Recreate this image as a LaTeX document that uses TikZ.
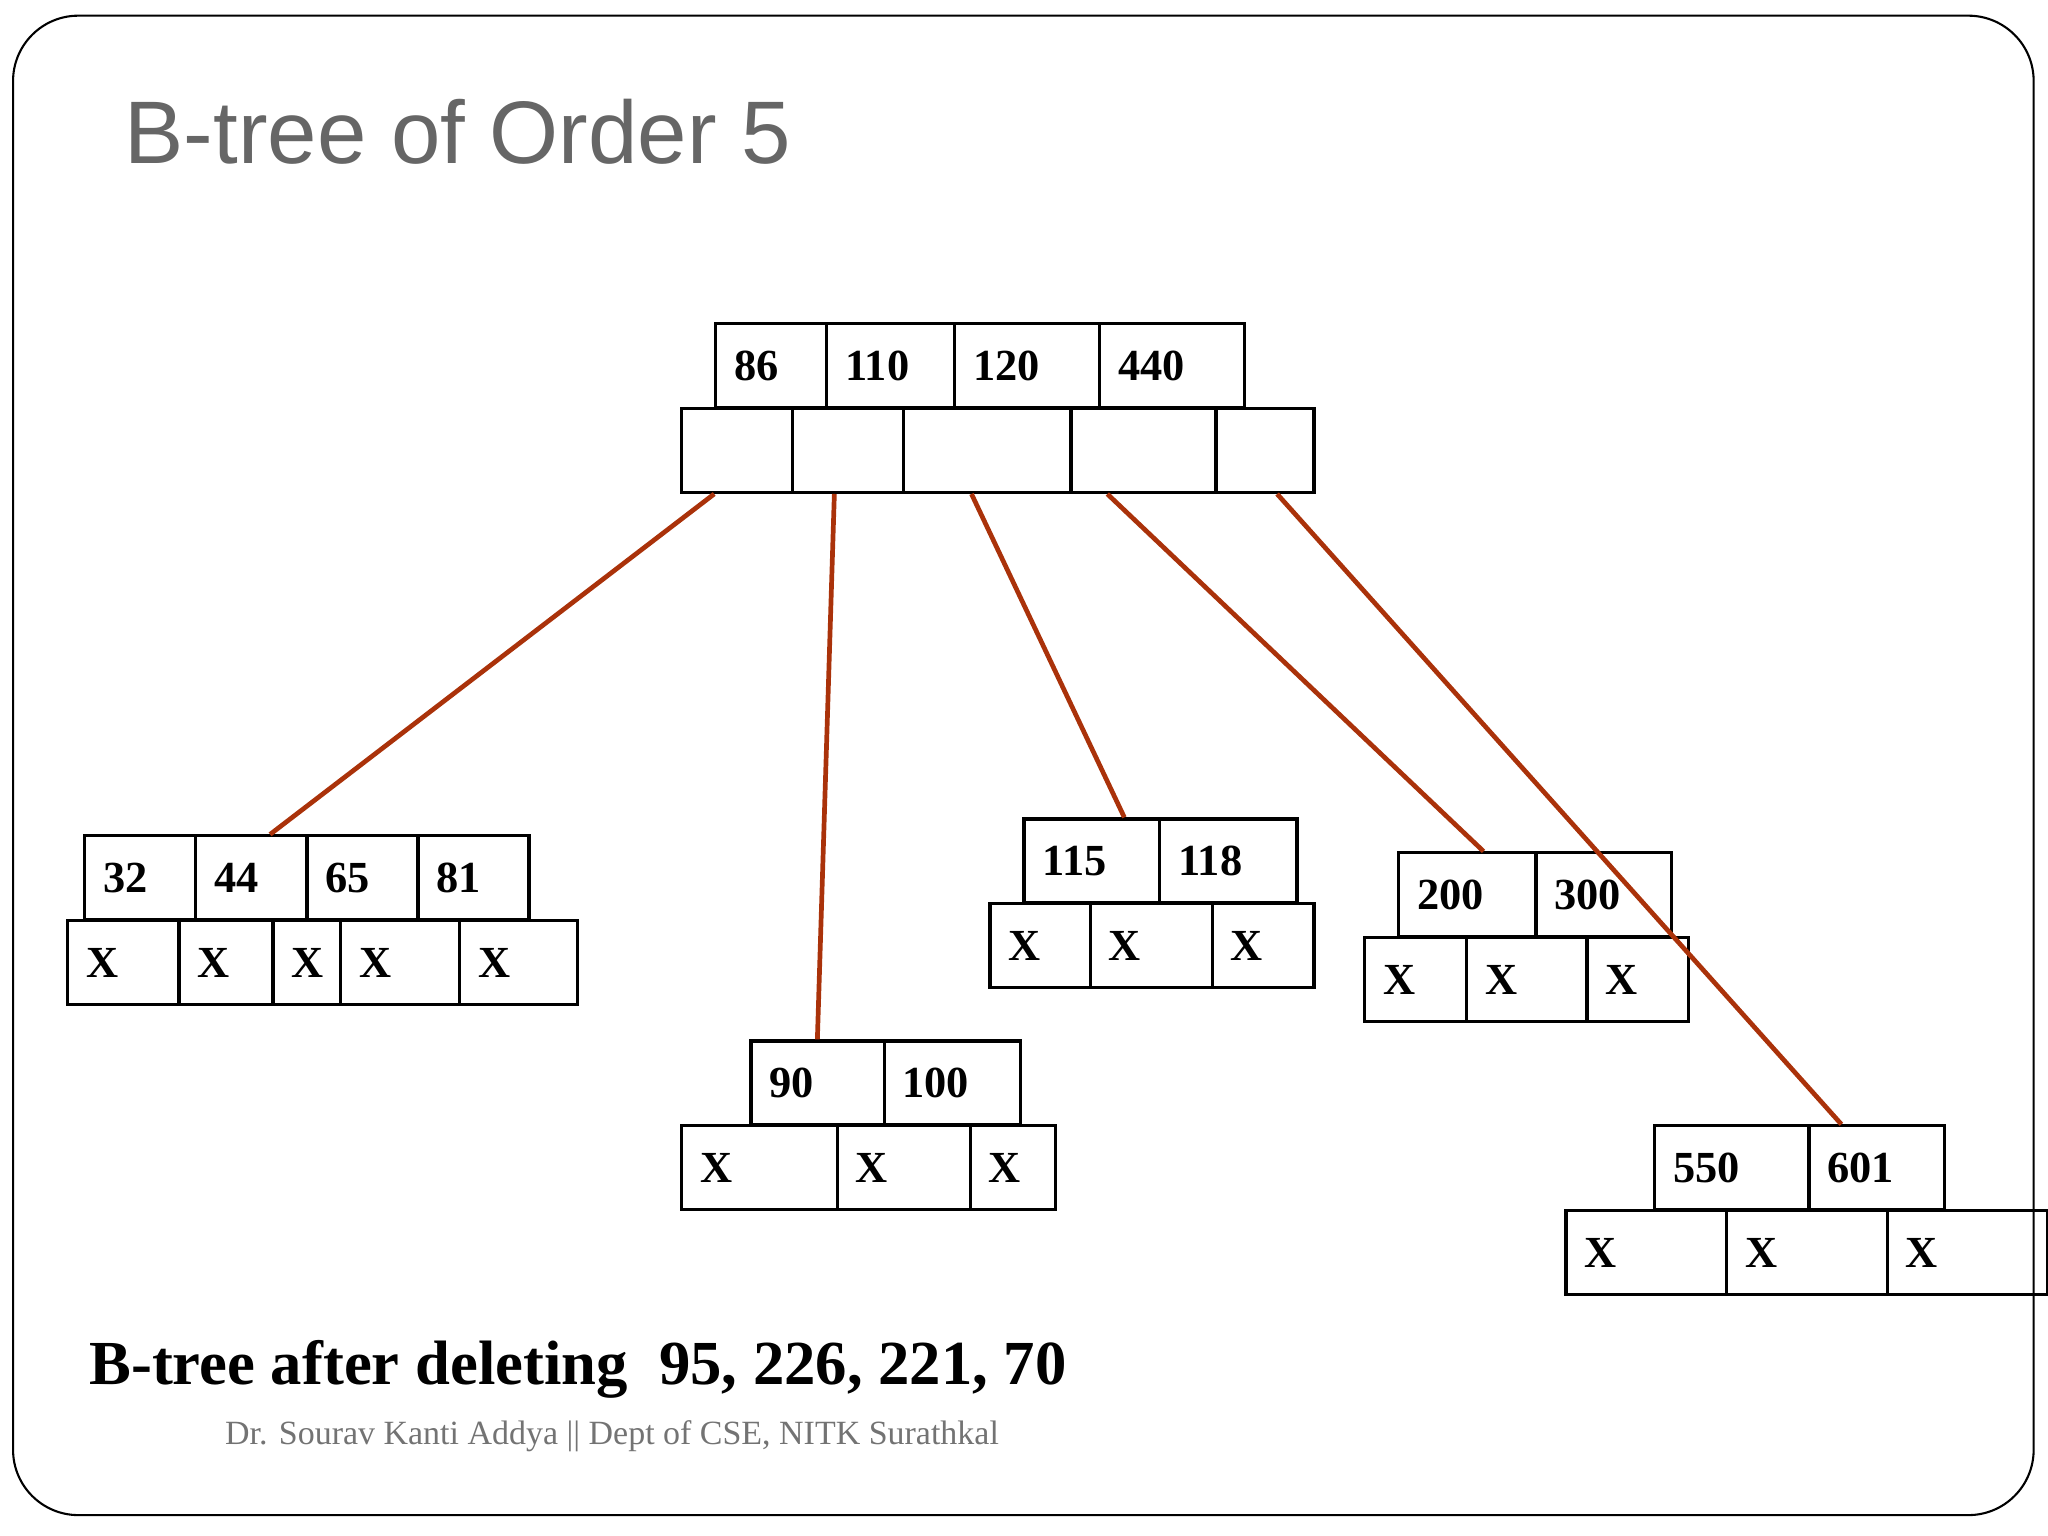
\documentclass[tikz,border=0pt]{standalone}
\usepackage{fontspec}
\setmainfont{Liberation Serif}
\newfontfamily\titlefont{Liberation Sans}
\usetikzlibrary{calc}
\definecolor{edgec}{RGB}{170,50,10}
\tikzset{
  cellbox/.style={draw=black,line width=1.2pt,inner xsep=7pt,inner ysep=0pt,align=left,font=\fontsize{17}{17}\selectfont\bfseries},
  edge/.style={draw=edgec,line width=1.8pt}
}
\newcommand\cellnode[6]{\node[cellbox,text width={(#3-#2)*0.5pt-14pt},minimum height={(#5-#4)*0.5pt}] (#1) at ({(#2+#3)/2},{(#4+#5)/2}) {#6};}
\begin{document}
\begin{tikzpicture}[x=0.5pt,y=-0.5pt]
\useasboundingbox (0,0) rectangle (1568,1176);
\draw[line width=0.8pt,rounded corners=25pt] (10,12) rectangle (1557,1160);
\node[anchor=base west,inner sep=0,text=black!60,font=\titlefont\fontsize{34}{34}\selectfont] (title) at (95,125) {B-tree of Order 5};
% root
\cellnode{r1}{548}{633}{248}{312}{86}
\cellnode{r2}{633}{731}{248}{312}{110}
\cellnode{r3}{731}{842}{248}{312}{120}
\cellnode{r4}{842}{953}{248}{312}{440}
\cellnode{p1}{522}{607}{313}{377}{}
\cellnode{p2}{607}{692}{313}{377}{}
\cellnode{p3}{692}{820}{313}{377}{}
\cellnode{p4}{820}{931}{313}{377}{}
\cellnode{p5}{931}{1006}{313}{377}{}
% leaf 1
\cellnode{a1}{65}{150}{640}{704}{32}
\cellnode{a2}{150}{235}{640}{704}{44}
\cellnode{a3}{235}{320}{640}{704}{65}
\cellnode{a4}{320}{405}{640}{704}{81}
\cellnode{ax1}{52}{137}{705}{769}{X}
\cellnode{ax2}{137}{209}{705}{769}{X}
\cellnode{ax3}{209}{261}{705}{769}{X}
\cellnode{ax4}{261}{352}{705}{769}{X}
\cellnode{ax5}{352}{442}{705}{769}{X}
% leaf 2
\cellnode{b1}{575}{677}{797}{861}{90}
\cellnode{b2}{677}{781}{797}{861}{100}
\cellnode{bx1}{522}{641}{862}{926}{X}
\cellnode{bx2}{641}{743}{862}{926}{X}
\cellnode{bx3}{743}{808}{862}{926}{X}
% leaf 3
\cellnode{c1}{784}{888}{627}{691}{115}
\cellnode{c2}{888}{993}{627}{691}{118}
\cellnode{cx1}{758}{835}{692}{756}{X}
\cellnode{cx2}{835}{928}{692}{756}{X}
\cellnode{cx3}{928}{1006}{692}{756}{X}
% leaf 4
\cellnode{d1}{1071}{1176}{653}{717}{200}
\cellnode{d2}{1176}{1280}{653}{717}{300}
\cellnode{dx1}{1045}{1123}{718}{782}{X}
\cellnode{dx2}{1123}{1215}{718}{782}{X}
\cellnode{dx3}{1215}{1293}{718}{782}{X}
% leaf 5
\cellnode{e1}{1267}{1385}{862}{926}{550}
\cellnode{e2}{1385}{1489}{862}{926}{601}
\cellnode{ex1}{1199}{1322}{927}{991}{X}
\cellnode{ex2}{1322}{1445}{927}{991}{X}
\cellnode{ex3}{1445}{1568}{927}{991}{X}
% edges
\draw[edge] ([xshift=13pt]p1.south west) -- ([xshift=29pt]a2.north west);
\draw[edge] ([xshift=16.5pt]p2.south west) -- ([xshift=26pt]b1.north west);
\draw[edge] ([xshift=26.5pt]p3.south west) -- ([xshift=39pt]c1.north west);
\draw[edge] ([xshift=14.5pt]p4.south west) -- ([xshift=33pt]d1.north west);
\draw[edge] ([xshift=24pt]p5.south west) -- ([xshift=13pt]e2.north west);
% captions
\node[anchor=base west,inner sep=0,font=\fontsize{24}{24}\selectfont\bfseries] (cap) at (68,1060) {B-tree after deleting\ \ 95, 226, 221, 70};
\node[anchor=base west,inner sep=0,text=black!55,font=\fontsize{13}{13}\selectfont] (foot) at (172,1106) {Dr. Sourav Kanti Addya || Dept of CSE, NITK Surathkal};
\end{tikzpicture}
\end{document}
